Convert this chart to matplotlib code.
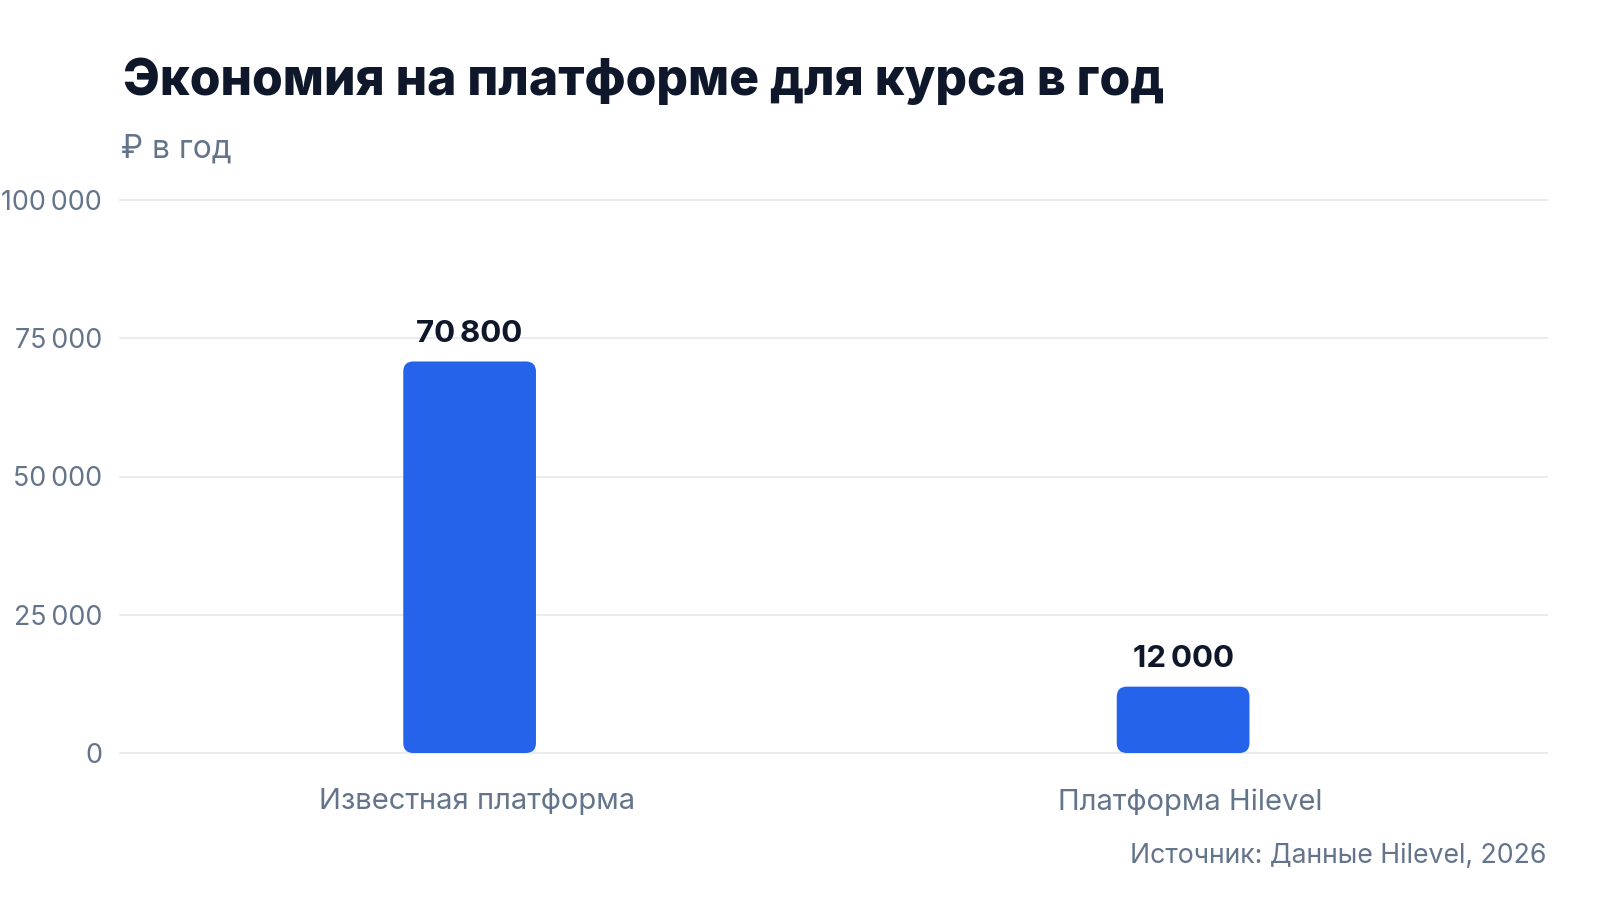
import matplotlib
matplotlib.use("Agg")
import matplotlib.pyplot as plt
import matplotlib.transforms as mtransforms
from matplotlib.patches import FancyBboxPatch
import numpy as np

plt.rcParams['font.family'] = ['Inter', 'DejaVu Sans']

# data
categories = ["Известная платформа", "Платформа Hilevel"]
values = [70800, 12000]
y_ticks = [0, 25000, 50000, 75000, 100000]

title = "Экономия на платформе для курса в год"
subtitle = "₽ в год"
source = "Источник: Данные Hilevel, 2026"

bar_color = "#2563eb"
title_color = "#0f172a"
muted = "#64748b"
grid_color = "#e5e7eb"


def fmt(v):
    return f"{v:,}".replace(",", "\u202f")


fig = plt.figure(figsize=(16, 9), dpi=100)
fig.patch.set_facecolor("white")
ax = fig.add_axes([120 / 1600, 1 - 753 / 900, (1547 - 120) / 1600, (753 - 200) / 900])

x = np.arange(len(categories))
ax.set_xlim(-0.49, len(categories) - 0.49)
ax.set_ylim(0, 100000)

# bar geometry, then rounded patches drawn in their place
bar_w = 0.186
bars = ax.bar(x, values, width=bar_w, color=bar_color, alpha=0)
fig.canvas.draw()
px_x = (ax.get_xlim()[1] - ax.get_xlim()[0]) / ax.bbox.width
px_y = (ax.get_ylim()[1] - ax.get_ylim()[0]) / ax.bbox.height
radius = 10 * px_x
for b in bars:
    patch = FancyBboxPatch((b.get_x(), 0), b.get_width(), b.get_height(),
                           boxstyle=f"round,pad=0,rounding_size={radius}",
                           mutation_aspect=px_y / px_x,
                           facecolor=bar_color, edgecolor="none", zorder=3)
    ax.add_patch(patch)
    b.remove()

for xi, v in zip(x, values):
    ax.annotate(fmt(v), (xi, v), xytext=(0, 14), textcoords="offset points",
                ha="center", va="baseline", fontsize=22.5, fontweight="bold",
                color=title_color)

ax.set_yticks(y_ticks)
ax.set_yticklabels([fmt(t) for t in y_ticks])
ax.set_xticks(x)
ax.set_xticklabels(categories)
ax.tick_params(axis="y", length=0, pad=13, labelsize=19.3, labelcolor=muted)
ax.tick_params(axis="x", length=0, pad=25.5, labelsize=21, labelcolor=muted)
# category labels sit a little right of the bar centres
shift = mtransforms.ScaledTranslation(7 / 100, 0, fig.dpi_scale_trans)
for lbl in ax.get_xticklabels():
    lbl.set_transform(lbl.get_transform() + shift)
ax.grid(axis="y", color=grid_color, linewidth=1.2, zorder=0)
ax.set_axisbelow(True)
for gl in ax.get_ygridlines():
    gl.set_clip_on(False)
for s in ax.spines.values():
    s.set_visible(False)

t = fig.text(123 / 1600, 1 - 95 / 900, title, fontsize=34, fontweight="heavy",
             color=title_color, va="baseline", ha="left")
# stretch title to the reference width
fig.canvas.draw()
w = t.get_window_extent().width
t.set_fontsize(34 * 1040 / w)

fig.text(121 / 1600, 1 - 158 / 900, subtitle, fontsize=22.8, color=muted,
         va="baseline", ha="left")
fig.text(1547 / 1600, 1 - 863 / 900, source, fontsize=19.2, color=muted,
         va="baseline", ha="right")

fig.savefig("out.png", dpi=100, facecolor="white")
